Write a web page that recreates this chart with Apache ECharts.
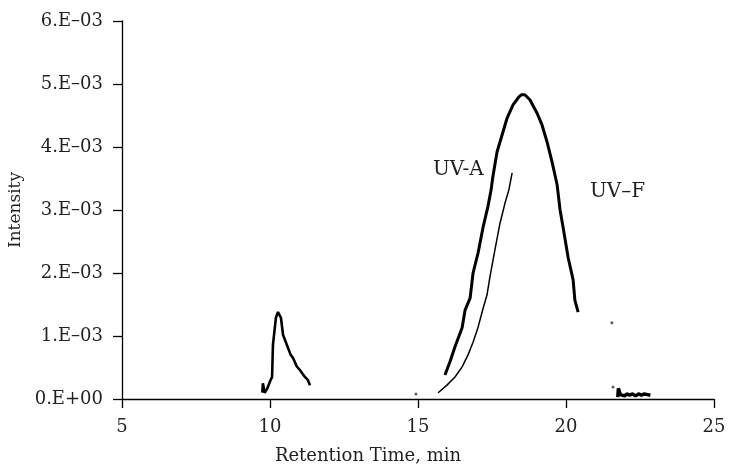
<!DOCTYPE html>
<html><head><meta charset="utf-8">
<script src="https://cdn.jsdelivr.net/npm/echarts@6/dist/echarts.min.js"></script>
<style>html,body{margin:0;padding:0;background:#fff}#c{width:731px;height:467px}</style>
</head><body><div id="c"></div>
<script>
// Values in units of 1e-3
const uvA_x = [15.91,16.08,16.25,16.49,16.59,16.76,16.86,17.03,17.20,17.36,17.47,17.52,17.67,17.84,18.01,18.21,18.40,18.50,18.61,18.78,19.02,19.19,19.36,19.53,19.70,19.80,19.90,20.07,20.24,20.30,20.41];
const uvA_y = [0.38,0.59,0.83,1.13,1.41,1.60,2.00,2.32,2.73,3.05,3.32,3.50,3.92,4.19,4.46,4.67,4.79,4.83,4.83,4.75,4.54,4.35,4.08,3.76,3.40,3.00,2.73,2.25,1.89,1.57,1.38];
const smallPeak_x = [9.74,9.76,9.82,9.90,10.02,10.07,10.10,10.20,10.27,10.37,10.44,10.52,10.61,10.70,10.78,10.90,11.01,11.10,11.18,11.28,11.35];
const smallPeak_y = [0.10,0.25,0.10,0.16,0.30,0.35,0.86,1.29,1.38,1.29,1.02,0.92,0.81,0.70,0.65,0.52,0.46,0.40,0.35,0.30,0.22];
const uvF_x = [15.68,15.98,16.25,16.49,16.69,16.86,17.03,17.20,17.33,17.43,17.60,17.77,17.94,18.07,18.18];
const uvF_y = [0.10,0.22,0.35,0.51,0.70,0.90,1.14,1.44,1.65,1.94,2.37,2.79,3.11,3.32,3.59];
const noise_x = [21.75,21.77,21.80,21.84,21.90,21.98,22.05,22.15,22.25,22.35,22.45,22.55,22.65,22.75,22.85];
const noise_y = [0.03,0.17,0.12,0.07,0.09,0.05,0.08,0.06,0.08,0.05,0.08,0.06,0.08,0.07,0.06];
const dots_x = [14.93,21.55,21.59];
const dots_y = [0.08,1.21,0.19];
const xTicks = [5,10,15,20,25];
const yTickLabels = ['0.E+00','1.E\u201303','2.E\u201303','3.E\u201303','4.E\u201303','5.E\u201303','6.E\u201303'];
const labelTexts = ['UV-A','UV\u2013F'];

const zip = (a,b)=>a.map((v,i)=>[v,b[i]]);
const FONT = 'DejaVu Serif';
const TXT = '#231f20';
const chart = echarts.init(document.getElementById('c'), null, {renderer:'canvas'});
chart.setOption({
  animation:false,
  backgroundColor:'#fff',
  grid:{left:122,right:17,top:21,bottom:68,containLabel:false,outerBoundsMode:'none'},
  xAxis:{type:'value',min:xTicks[0],max:xTicks[xTicks.length-1],interval:5,
    axisLine:{onZero:false,lineStyle:{color:'#000',width:1.3}},
    axisTick:{show:true,length:9,lineStyle:{color:'#000',width:1.3}},
    axisLabel:{color:TXT,fontFamily:FONT,fontSize:18,margin:19},
    splitLine:{show:false}},
  yAxis:{type:'value',min:0,max:6,interval:1,
    axisLine:{show:true,lineStyle:{color:'#000',width:1.3}},
    axisTick:{show:true,length:9,lineStyle:{color:'#000',width:1.3}},
    axisLabel:{color:TXT,fontFamily:FONT,fontSize:18,margin:19,formatter:(v)=>yTickLabels[Math.round(v)]},
    splitLine:{show:false},
    name:'Intensity',nameLocation:'middle',nameGap:96,nameRotate:90,
    nameTextStyle:{color:TXT,fontFamily:FONT,fontSize:17}},
  graphic:[
    {type:'text',x:368,y:456,style:{text:'Retention Time, min',fill:TXT,font:'18px "DejaVu Serif"',textAlign:'center',textVerticalAlign:'middle'}},
    {type:'text',x:433,y:170,style:{text:labelTexts[0],fill:TXT,font:'20px "DejaVu Serif"',textAlign:'left',textVerticalAlign:'middle'}},
    {type:'text',x:590,y:192,style:{text:labelTexts[1],fill:TXT,font:'20px "DejaVu Serif"',textAlign:'left',textVerticalAlign:'middle'}}
  ],
  series:[
    {type:'line',data:zip(uvA_x,uvA_y),showSymbol:false,lineStyle:{color:'#000',width:3},silent:true},
    {type:'line',data:zip(smallPeak_x,smallPeak_y),showSymbol:false,lineStyle:{color:'#000',width:2.6},silent:true},
    {type:'line',data:zip(uvF_x,uvF_y),showSymbol:false,lineStyle:{color:'#000',width:1.5},silent:true},
    {type:'line',data:zip(noise_x,noise_y),showSymbol:false,lineStyle:{color:'#000',width:3.5},silent:true},
    {type:'scatter',data:zip(dots_x,dots_y),symbolSize:3,itemStyle:{color:'#333'},silent:true}
  ]
});
</script></body></html>
